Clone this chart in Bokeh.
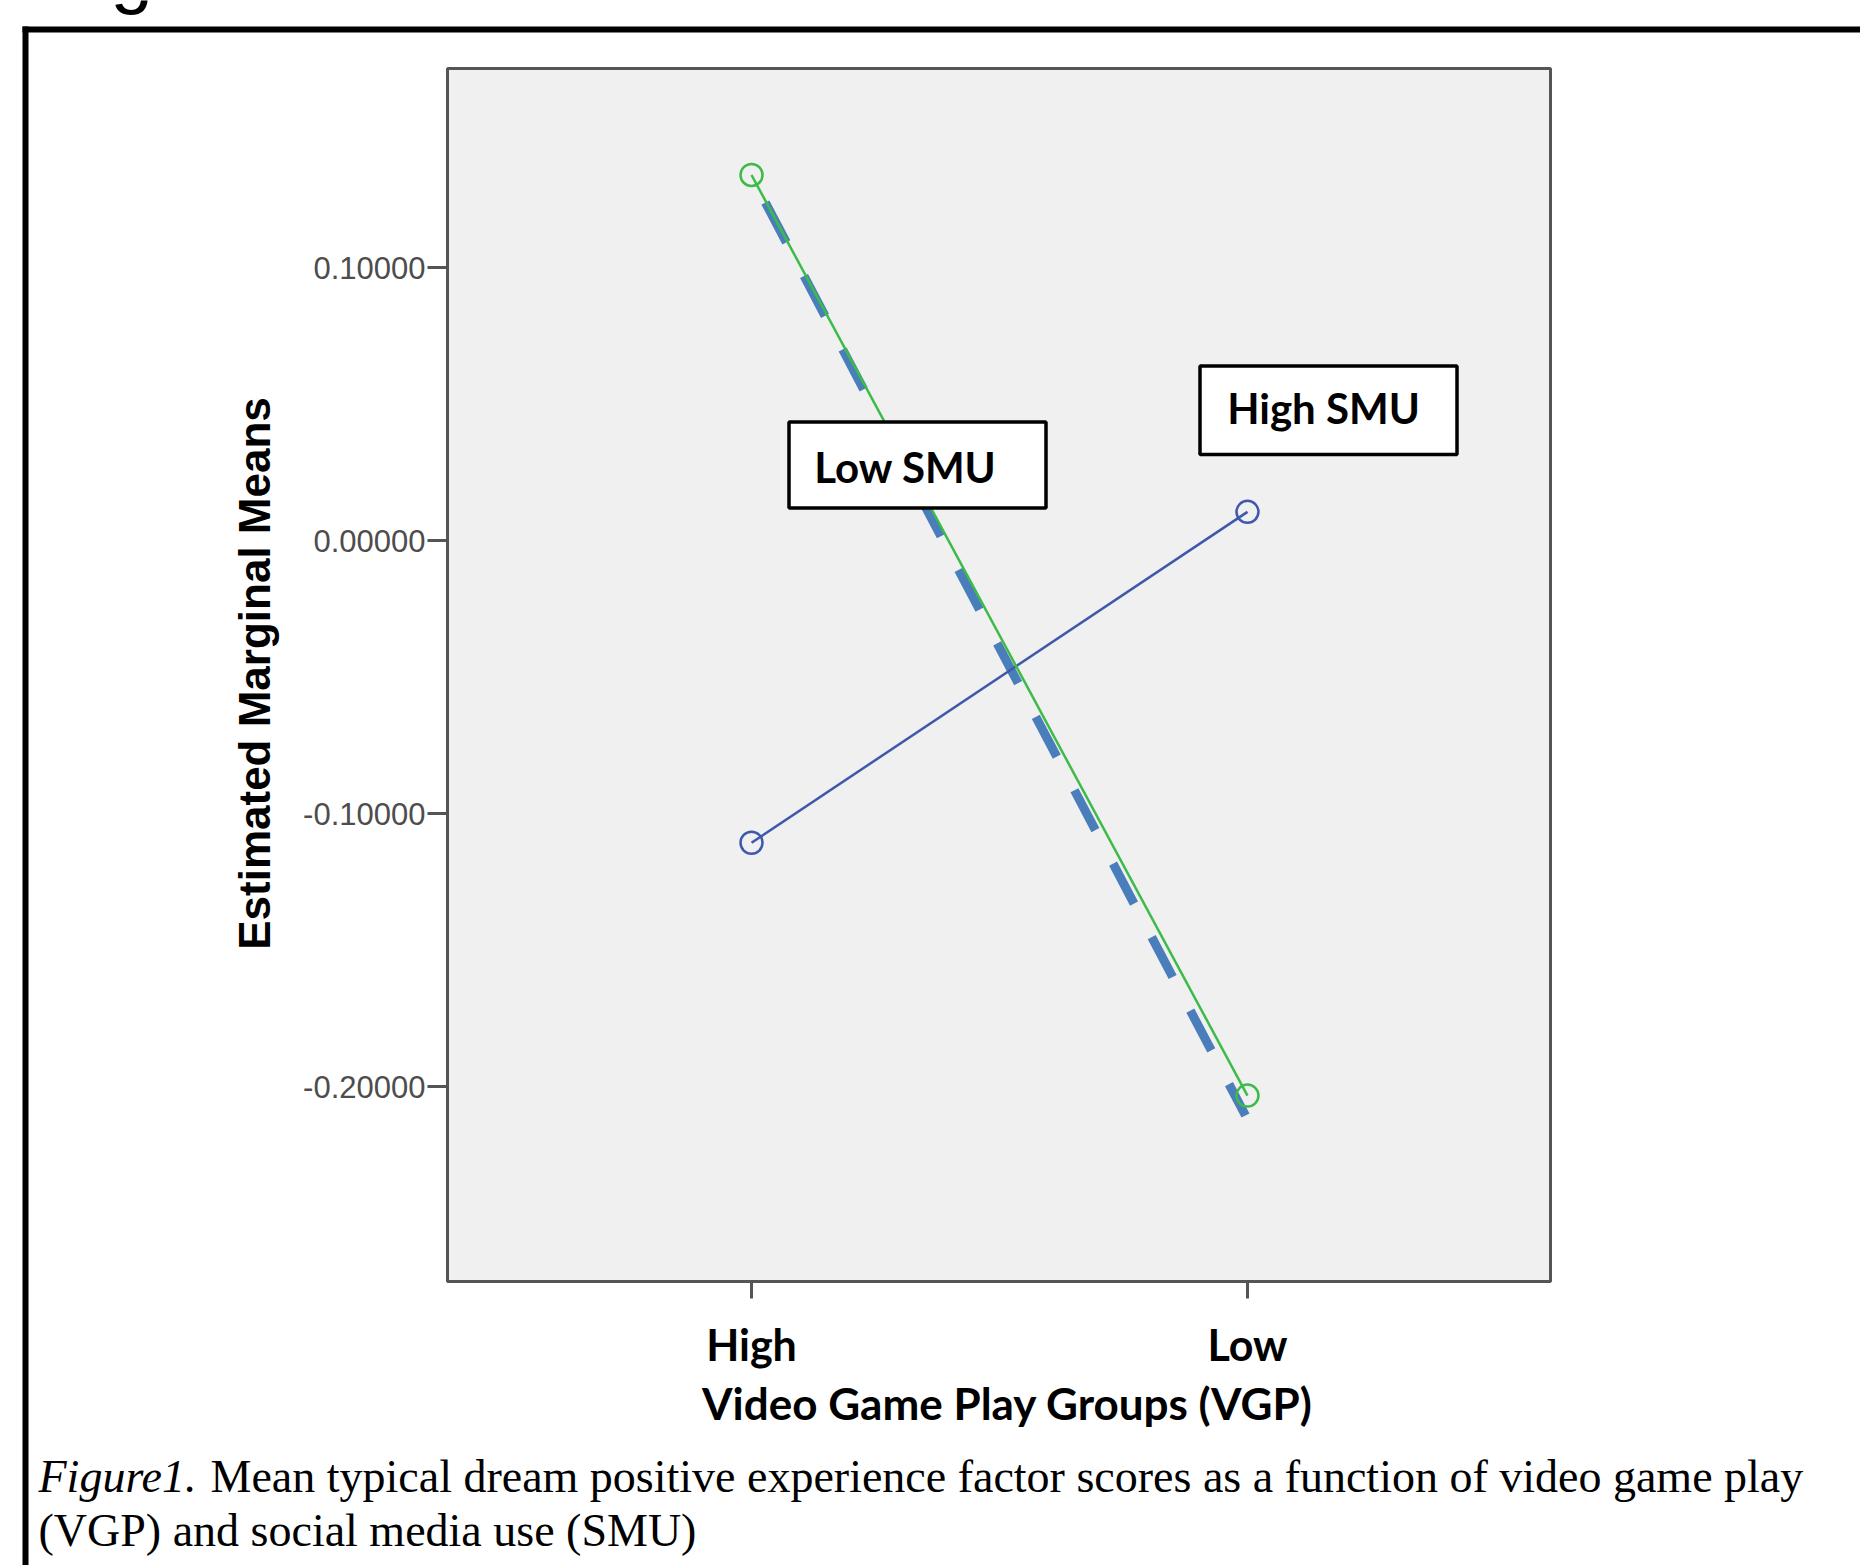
import math
from bokeh.plotting import figure
from bokeh.models import (Range1d, FixedTicker, NumeralTickFormatter, Label,
                          BoxAnnotation, Arrow, ColumnDataSource)
from bokeh.embed import file_html
from bokeh.resources import INLINE

# ---- data ----
vgp_groups = ["High", "Low"]          # Video Game Play groups
vgp_pos = [1, 2]
low_smu = [0.1339, -0.2033]           # green series (Low SMU)
high_smu = [-0.1107, 0.0105]          # blue series (High SMU)
overlay_x = [1.028, 1.996]            # hand-drawn dashed overlay on the Low SMU line
overlay_y = [0.1238, -0.2106]
y_ticks = [-0.2, -0.1, 0.0, 0.1]

# ---- layout (page pixels) ----
W, H = 1860, 1565
# chart axis limits (the grey plotting area)
PX0, PX1 = 0.387, 2.611
PY0, PY1 = -0.2714, 0.1729
# the grey area spans these page pixels
AL, AR, AT, AB = 447, 1550, 68, 1281
# extend the ranges linearly to the whole page
sx = (PX1 - PX0) / (AR - AL)
sy = (PY1 - PY0) / (AB - AT)
CX0, CX1 = PX0 - AL * sx, PX1 + (W - AR) * sx
CY1, CY0 = PY1 + AT * sy, PY0 - (H - AB) * sy


def dx(px):
    return CX0 + px * sx


def dy(py):
    return CY1 - py * sy


p = figure(width=W, height=H, x_range=Range1d(CX0, CX1), y_range=Range1d(CY0, CY1),
           output_backend="svg", toolbar_location=None,
           min_border_left=0, min_border_right=0, min_border_top=0, min_border_bottom=0)
p.background_fill_color = "white"
p.border_fill_color = "white"
p.outline_line_color = None
p.grid.visible = False

# grey plotting area with its border
p.add_layout(BoxAnnotation(left=PX0, right=PX1, bottom=PY0, top=PY1,
                           fill_color="#f0f0f0", fill_alpha=1.0,
                           line_color="#555555", line_alpha=1.0, line_width=3,
                           level="underlay"))

# x axis (placed on the bottom edge of the grey area)
xa = p.xaxis[0]
xa.fixed_location = PY0
xa.ticker = FixedTicker(ticks=vgp_pos)
xa.major_label_overrides = {v: g for v, g in zip(vgp_pos, vgp_groups)}
xa.axis_line_color = None
xa.major_tick_line_color = "#555555"
xa.major_tick_line_width = 3
xa.major_tick_in = 0
xa.major_tick_out = 17
xa.minor_tick_line_color = None
xa.major_label_text_font = "Lato"
xa.major_label_text_font_style = "bold"
xa.major_label_text_font_size = "43px"
xa.major_label_text_color = "black"
xa.major_label_standoff = 20

# y axis (placed on the left edge of the grey area)
ya = p.yaxis[0]
ya.fixed_location = PX0
ya.ticker = FixedTicker(ticks=y_ticks)
ya.formatter = NumeralTickFormatter(format="0.00000")
ya.axis_line_color = None
ya.major_tick_line_color = "#555555"
ya.major_tick_line_width = 3
ya.major_tick_in = 0
ya.major_tick_out = 20
ya.minor_tick_line_color = None
ya.major_label_text_font = "Liberation Sans"
ya.major_label_text_font_size = "31px"
ya.major_label_text_color = "#4d4d4d"
ya.major_label_standoff = 2

# axis titles
p.add_layout(Label(x=dx(1007), y=dy(1402), text="Video Game Play Groups (VGP)",
                   text_align="center", text_baseline="alphabetic",
                   text_font="Lato", text_font_style="bold", text_font_size="44px",
                   text_color="black"))
p.add_layout(Label(x=dx(254), y=dy(673), text="Estimated Marginal Means", angle=math.pi / 2,
                   text_align="center", text_baseline="alphabetic",
                   text_font="Liberation Sans", text_font_style="bold",
                   text_font_size="44px", text_color="black"))

src = ColumnDataSource(dict(x=vgp_pos, low=low_smu, high=high_smu))
ov = ColumnDataSource(dict(x=overlay_x, y=overlay_y))

GREEN = "#3dbb49"
BLUE = "#3e58ac"

p.line("x", "y", source=ov, line_color="#4a7ebb", line_width=9, line_dash="45 38")
p.line("x", "high", source=src, line_color=BLUE, line_width=2.5)
p.scatter("x", "high", source=src, marker="circle", size=22, fill_color=None,
          line_color=BLUE, line_width=2.5)
p.line("x", "low", source=src, line_color=GREEN, line_width=2.5)
p.scatter("x", "low", source=src, marker="circle", size=22, fill_color=None,
          line_color=GREEN, line_width=2.5)

# annotation boxes with their texts
for (l, r, t, b), (tx, ty), txt in [((788.5, 1045.5, 421.5, 507.5), (905, 466), "Low SMU"),
                                    ((1199.5, 1456.5, 365.5, 454), (1323, 407), "High SMU")]:
    p.add_layout(BoxAnnotation(left=dx(l), right=dx(r), top=dy(t), bottom=dy(b),
                               fill_color="white", fill_alpha=1.0,
                               line_color="black", line_alpha=1.0, line_width=3.5,
                               level="overlay"))
    p.add_layout(Label(x=dx(tx), y=dy(ty), text=txt,
                       text_align="center", text_baseline="alphabetic",
                       text_font="Lato", text_font_style="bold",
                       text_font_size="42px", text_color="black", level="overlay"))

# outer black frame (top and left edges of the figure box on the page)
p.add_layout(Arrow(x_start=dx(22), y_start=dy(29), x_end=dx(1900), y_end=dy(29),
                   start=None, end=None, line_color="black", line_width=6))
p.add_layout(Arrow(x_start=dx(25), y_start=dy(26), x_end=dx(25), y_end=dy(1620),
                   start=None, end=None, line_color="black", line_width=6))

# cut-off heading letter at the very top
p.add_layout(Label(x=dx(110), y=dy(-28), text="g", text_font="Liberation Sans",
                   text_font_size="76px", text_color="black",
                   text_baseline="alphabetic", text_align="left"))

# caption
CAP = dict(text_font="Liberation Serif", text_font_size="46px", text_color="black",
           text_baseline="alphabetic", text_align="left")
p.add_layout(Label(x=dx(38), y=dy(1476), text="Figure1.", text_font_style="italic", **CAP))
p.add_layout(Label(x=dx(210), y=dy(1476),
                   text="Mean typical dream positive experience factor scores as a function of video game play",
                   **CAP))
p.add_layout(Label(x=dx(38), y=dy(1530), text="(VGP) and social media use (SMU)", **CAP))

open("out.html", "w").write(file_html(p, INLINE))
